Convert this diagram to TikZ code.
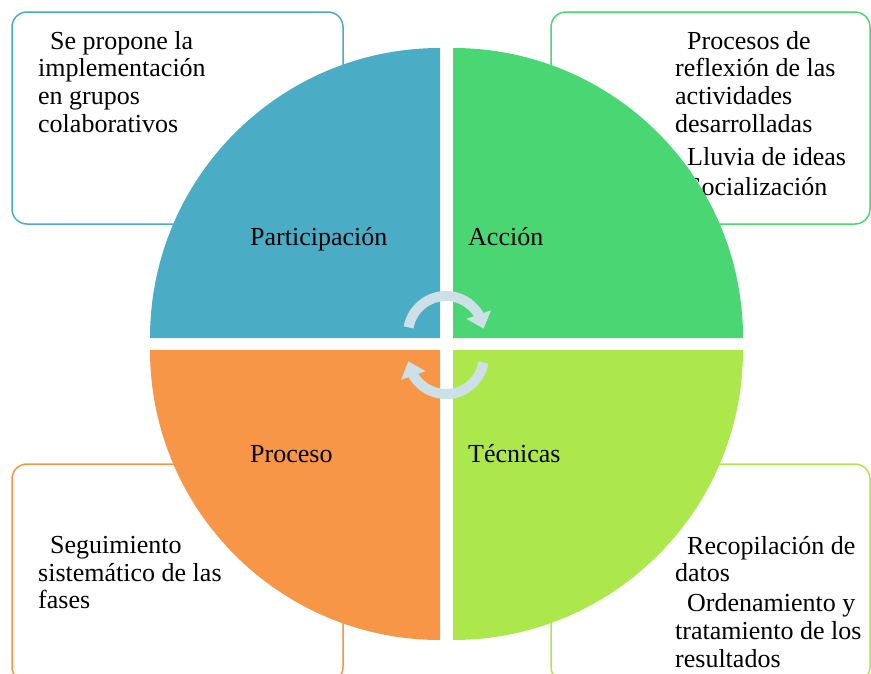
\documentclass[tikz,border=0pt]{standalone}
\usepackage{fontspec}
\setmainfont{Liberation Serif}
\usepackage{tikz}
\usetikzlibrary{arrows.meta, bending}
\definecolor{partblue}{HTML}{4BACC6}
\definecolor{accgreen}{HTML}{4AD672}
\definecolor{procorange}{HTML}{F79646}
\definecolor{teclime}{HTML}{ACE84B}
\definecolor{cyclegrey}{HTML}{CDE0E8}
\tikzstyle{infobox} = [line width=1.5pt, rounded corners=15pt]
\tikzstyle{boxtext} = [anchor=north west, inner sep=0pt, align=left, font=\fontsize{26}{27.7}\selectfont]
\tikzstyle{quadlabel} = [anchor=base west, inner sep=0pt, font=\fontsize{26}{27.7}\selectfont]
\tikzstyle{cyclearrow} = [line width=10pt, draw=cyclegrey, -{Triangle[width=25pt,length=15pt,flex]}]

\begin{document}
\begin{tikzpicture}[x=1pt,y=-1pt]
	\useasboundingbox (0,0) rectangle (871,673);
	% boxes behind the circle
	\draw [infobox, draw=partblue] (12,12) rectangle (343,224);
	\draw [infobox, draw=accgreen] (551,12) rectangle (870,224);
	\draw [infobox, draw=procorange] (12,464) rectangle (343,682);
	\draw [infobox, draw=teclime] (551,464) rectangle (870,682);
	\node [boxtext] (txtpart) at (38,31) {\hspace*{12pt}Se propone la\\implementación\\en grupos\\colaborativos};
	\node [boxtext] (txtacc) at (675,31) {\hspace*{12pt}Procesos de\\reflexión de las\\actividades\\desarrolladas\\[5pt]\hspace*{12pt}Lluvia de ideas\\[3pt]\hspace*{12pt}Socialización};
	\node [boxtext] (txtproc) at (38,536) {\hspace*{12pt}Seguimiento\\sistemático de las\\fases};
	\node [boxtext] (txttec) at (675,536) {\hspace*{12pt}Recopilación de\\datos\\[2pt]\hspace*{12pt}Ordenamiento y\\tratamiento de los\\resultados};
	% the four quarters
	\fill [partblue] (440,338) -- (150,338) arc (180:270:290) -- cycle;
	\fill [accgreen] (453,338) -- (453,48) arc (270:360:290) -- cycle;
	\fill [procorange] (440,350) -- (150,350) arc (180:90:290) -- cycle;
	\fill [teclime] (453,350) -- (743,350) arc (0:90:290) -- cycle;
	\node [quadlabel] (participacion) at (250,245) {Participación};
	\node [quadlabel] (accion) at (468,245) {Acción};
	\node [quadlabel] (proceso) at (250,462) {Proceso};
	\node [quadlabel] (tecnicas) at (468,462) {Técnicas};
	% cycle arrows in the middle
	\draw [cyclearrow] (446,334) ++(190:38) arc (190:352:38);
	\draw [cyclearrow] (446,356) ++(10:38) arc (10:172:38);
\end{tikzpicture}
\end{document}
